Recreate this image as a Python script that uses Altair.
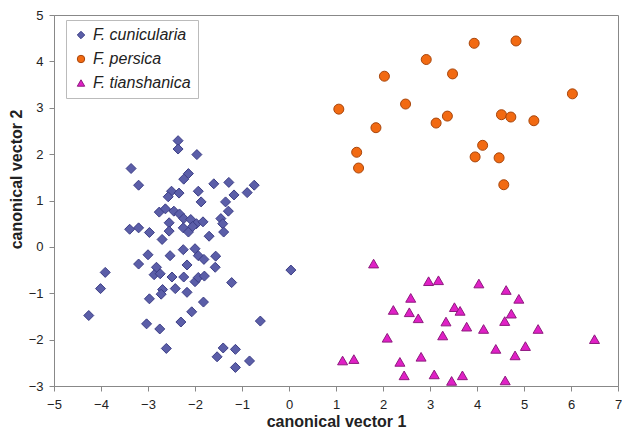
import altair as alt
import pandas as pd

species = ["F. cunicularia", "F. persica", "F. tianshanica"]

cun_x = [-3.00, -3.20, -2.53, -2.25, -2.00, -1.93, -1.81, -1.56, -1.57, -2.82,
         -2.87, -2.74, -2.49, -2.17, -2.24, -2.00, -1.93, -1.80, -3.91, -4.01,
         -4.26, 0.04, -1.22, -2.69, -2.72, -2.42, -2.17, -2.97, -1.82, -2.07,
         -3.03, -2.75, -2.30, -0.61, -2.61, -1.40, -1.14, -1.53, -0.84, -1.14,
         -2.36, -2.36, -1.96, -3.36, -3.20, -2.14, -2.24, -1.60, -1.28, -0.74,
         -0.89, -1.17, -2.50, -2.34, -2.57, -1.93, -1.87, -1.35, -1.29, -1.45,
         -1.41, -1.39, -2.76, -2.63, -2.45, -2.33, -2.24, -2.09, -1.97, -1.83,
         -2.55, -2.25, -2.14, -3.39, -3.20, -2.97, -2.55, -2.70, -1.70, -2.05]
cun_y = [-0.17, -0.37, -0.19, -0.06, -0.04, -0.19, -0.27, -0.20, -0.44, -0.44,
         -0.60, -0.58, -0.65, -0.39, -0.65, -0.75, -0.66, -0.63, -0.55, -0.90,
         -1.48, -0.50, -0.77, -0.92, -1.02, -0.90, -0.98, -1.12, -1.19, -1.40,
         -1.66, -1.77, -1.62, -1.60, -2.19, -2.18, -2.21, -2.37, -2.46, -2.60,
         2.29, 2.11, 1.99, 1.69, 1.33, 1.58, 1.46, 1.36, 1.39, 1.33,
         1.17, 1.12, 1.20, 1.16, 1.08, 1.20, 0.97, 0.97, 0.77, 0.61,
         0.50, 0.32, 0.75, 0.82, 0.77, 0.71, 0.61, 0.59, 0.50, 0.54,
         0.52, 0.41, 0.32, 0.38, 0.41, 0.31, 0.34, 0.16, 0.23, 0.44]

per_x = [3.94, 4.83, 2.92, 2.03, 3.48, 6.03, 1.06, 2.48, 4.52, 4.72,
         5.21, 3.37, 3.13, 1.85, 4.12, 1.44, 3.96, 4.47, 1.48, 4.57]
per_y = [4.39, 4.44, 4.04, 3.68, 3.73, 3.30, 2.97, 3.08, 2.85, 2.80,
         2.72, 2.82, 2.67, 2.57, 2.19, 2.04, 1.94, 1.92, 1.70, 1.34]

tia_x = [1.80, 2.97, 3.18, 4.04, 4.62, 4.89, 2.59, 2.22, 2.56, 2.75,
         3.52, 3.64, 3.34, 4.73, 4.59, 3.78, 4.14, 5.30, 2.09, 3.27,
         6.50, 4.40, 5.03, 4.81, 2.81, 1.14, 1.38, 2.36, 2.45, 3.09,
         3.46, 3.69, 4.60]
tia_y = [-0.36, -0.74, -0.72, -0.79, -0.93, -1.12, -1.10, -1.36, -1.41, -1.54,
         -1.30, -1.38, -1.61, -1.44, -1.60, -1.72, -1.77, -1.77, -1.96, -1.91,
         -1.99, -2.20, -2.14, -2.34, -2.37, -2.45, -2.42, -2.48, -2.77, -2.75,
         -2.89, -2.77, -2.88]

x_ticks = list(range(-5, 8))
y_ticks = list(range(-3, 6))

rows = []
for sp, xs, ys in zip(species, [cun_x, per_x, tia_x], [cun_y, per_y, tia_y]):
    for a, b in zip(xs, ys):
        rows.append({"species": sp, "cv1": a, "cv2": b})
df = pd.DataFrame(rows)

FONT = "Liberation Sans"


def make_legend():
    return alt.Legend(title=None, orient="none", legendX=12, legendY=5,
                      labelFontSize=16, labelFontStyle="italic",
                      labelFont=FONT, labelColor="#222222",
                      fillColor="white", strokeColor="#bbbbbb",
                      padding=7, rowPadding=8, symbolSize=55,
                      labelOffset=4, symbolStrokeWidth=1)


chart = alt.Chart(df).mark_point(filled=True, opacity=1, strokeWidth=1, size=100).encode(
    x=alt.X("cv1:Q", title="canonical vector 1",
            scale=alt.Scale(domain=[-5, 7], nice=False, zero=False),
            axis=alt.Axis(values=x_ticks, grid=False, labelFontSize=13,
                          labelPadding=7, titleFontSize=16, titlePadding=2,
                          tickSize=5, labelFlush=False)),
    y=alt.Y("cv2:Q", title="canonical vector 2",
            scale=alt.Scale(domain=[-3, 5], nice=False, zero=False),
            axis=alt.Axis(values=y_ticks, grid=False, labelFontSize=13,
                          labelPadding=6, titleFontSize=16, titlePadding=4,
                          titleY=164, tickSize=5, labelFlush=False)),
    shape=alt.Shape("species:N",
                    scale=alt.Scale(domain=species, range=["diamond", "circle", "triangle-up"]),
                    legend=make_legend()),
    fill=alt.Fill("species:N",
                  scale=alt.Scale(domain=species, range=["#5b5ea8", "#f26a12", "#e020c6"]),
                  legend=make_legend()),
    stroke=alt.Stroke("species:N",
                      scale=alt.Scale(domain=species, range=["#3c3e86", "#a8460c", "#8e1a7e"]),
                      legend=make_legend()),
).properties(
    width=564, height=371,
    autosize=alt.AutoSizeParams(type="none"),
    padding={"left": 46, "top": 7, "right": 4, "bottom": 43},
).configure(font=FONT).configure_axis(
    domainColor="#888888", tickColor="#888888", labelColor="#222222",
    titleColor="#222222", titleFontWeight="bold", labelFont=FONT, titleFont=FONT,
).configure_view(stroke="#888888", strokeWidth=1)

chart.save("out.html", embed_options={"renderer": "svg", "actions": False})
